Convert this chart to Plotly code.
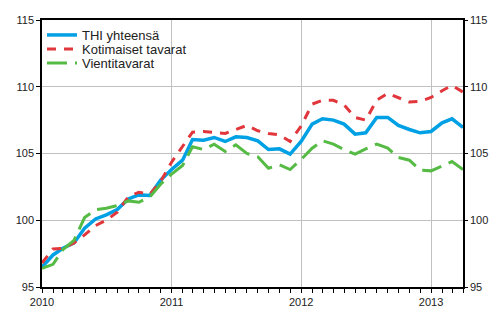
import plotly.graph_objects as go
import pandas as pd

months = pd.date_range("2010-01-01", "2013-04-01", freq="MS").strftime("%Y-%m-%d").tolist()

thi_total = [96.5, 97.4, 97.9, 98.3, 99.4, 100.1, 100.4, 100.8, 101.6, 101.9, 101.85, 103.0,
             103.8, 104.5, 106.05, 106.0, 106.2, 105.9, 106.25, 106.2, 105.95, 105.3, 105.35, 104.95,
             105.9, 107.2, 107.6, 107.5, 107.2, 106.45, 106.55, 107.7, 107.7, 107.1, 106.8, 106.55,
             106.65, 107.3, 107.6, 106.95]
domestic = [96.8, 97.85, 97.9, 98.3, 98.9, 99.6, 100.0, 100.6, 101.75, 102.1, 101.95, 102.9,
            104.35, 105.5, 106.6, 106.65, 106.6, 106.5, 106.8, 107.1, 106.7, 106.5, 106.4, 105.9,
            107.05, 108.7, 108.98, 108.98, 108.65, 107.7, 107.5, 109.0, 109.5, 109.2, 108.85, 108.9,
            109.2, 109.7, 110.1, 109.6]
export = [96.4, 96.7, 97.8, 98.5, 100.2, 100.8, 100.9, 101.1, 101.45, 101.35, 101.75, 102.7,
          103.45, 104.1, 105.5, 105.3, 105.7, 105.15, 105.65, 105.0, 104.75, 103.9, 104.15, 103.8,
          104.55, 105.4, 105.95, 105.7, 105.3, 104.95, 105.35, 105.7, 105.4, 104.7, 104.5, 103.75,
          103.7, 104.05, 104.4, 103.8]

series_names = ["THI yhteensä", "Kotimaiset tavarat", "Vientitavarat"]
year_ticks = ["2010-01-01", "2011-01-01", "2012-01-01", "2013-01-01"]
year_labels = ["2010", "2011", "2012", "2013"]
y_ticks = [95, 100, 105, 110, 115]

fig = go.Figure()
fig.add_trace(go.Scatter(x=months, y=thi_total, name=series_names[0], mode="lines",
                         line=dict(color="#00a0e4", width=3.5), legend="legend"))
fig.add_trace(go.Scatter(x=months, y=domestic, name=series_names[1], mode="lines",
                         line=dict(color="#e0363c", width=3, dash="9px,8px"), legend="legend2"))
fig.add_trace(go.Scatter(x=months, y=export, name=series_names[2], mode="lines",
                         line=dict(color="#55bb44", width=3, dash="20px,8px"), legend="legend3"))
# invisible trace to carry the right-hand axis
fig.add_trace(go.Scatter(x=months, y=thi_total, yaxis="y2", mode="lines",
                         line=dict(width=0), showlegend=False, hoverinfo="skip", opacity=0))

axis_font = dict(family="Liberation Sans, Arial, sans-serif", size=11, color="#222222")
legend_font = dict(family="Liberation Sans, Arial, sans-serif", size=13, color="#222222")
plot_h = 330 - 20 - 43
row = 14 / plot_h

def leg(i, bg):
    return dict(x=0, y=1 - i * row, xanchor="left", yanchor="top", bgcolor=bg,
                font=legend_font, itemwidth=30, borderwidth=0)

fig.update_layout(
    width=500, height=330,
    margin=dict(l=42, r=29, t=20, b=43),
    paper_bgcolor="white", plot_bgcolor="white",
    font=axis_font,
    showlegend=True,
    legend=leg(0, "white"),
    legend2=leg(1, "rgba(255,255,255,0)"),
    legend3=leg(2, "rgba(255,255,255,0)"),
    xaxis=dict(type="date", range=["2010-01-01", "2013-04-01"],
               tickvals=year_ticks, ticktext=year_labels,
               ticks="outside", ticklen=4, tickcolor="black",
               showgrid=True, gridcolor="#c0c0c0", gridwidth=1,
               showline=True, linecolor="black", linewidth=1.5, mirror=True,
               minor=dict(dtick="M1", ticks="outside", ticklen=4, tickcolor="black", showgrid=False),
               tickfont=axis_font, zeroline=False),
    yaxis=dict(range=[95, 115], tickvals=y_ticks,
               ticks="outside", ticklen=4, tickcolor="black",
               showgrid=True, gridcolor="#c0c0c0", gridwidth=1,
               showline=True, linecolor="black", linewidth=1.5, mirror=True,
               tickfont=axis_font, zeroline=False),
    yaxis2=dict(range=[95, 115], tickvals=y_ticks, overlaying="y", side="right",
                ticks="outside", ticklen=3, tickcolor="black",
                showgrid=False, showline=True, linecolor="black", linewidth=1.5,
                tickfont=axis_font, zeroline=False),
)

fig.write_html("out.html", config={"displayModeBar": False},
               post_script="document.body.style.margin='0';")
